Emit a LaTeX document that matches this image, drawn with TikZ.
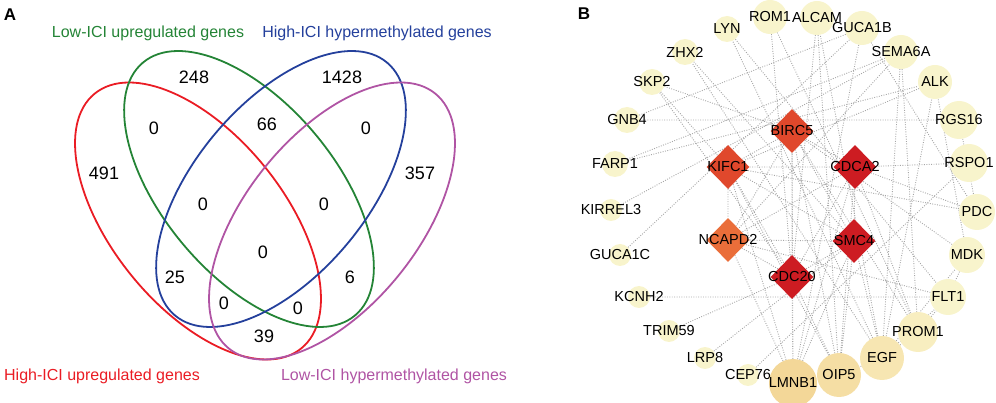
\documentclass[tikz,border=0pt]{standalone}
\usepackage{fontspec}
\setmainfont{Liberation Sans}
\usetikzlibrary{shapes.geometric,backgrounds}

\definecolor{vred}{RGB}{234,28,36}
\definecolor{vgreen}{RGB}{36,132,54}
\definecolor{vblue}{RGB}{36,64,156}
\definecolor{vpurple}{RGB}{176,84,164}
\definecolor{pale}{RGB}{248,244,204}
\definecolor{paleB}{RGB}{248,238,192}
\definecolor{paleC}{RGB}{247,230,178}
\definecolor{paleD}{RGB}{245,222,164}
\definecolor{paleE}{RGB}{243,215,152}
\definecolor{hubA}{RGB}{224,72,44}
\definecolor{hubB}{RGB}{205,28,34}
\definecolor{hubC}{RGB}{234,110,58}

\tikzset{
  venn/.style={line width=1.8pt},
  setlabel/.style={font=\fontsize{16}{18}\selectfont},
  count/.style={font=\fontsize{18}{20}\selectfont},
  panel/.style={font=\bfseries\fontsize{17}{19}\selectfont},
  gene/.style={circle, fill=#1, inner sep=0pt},
  hub/.style={diamond, fill=#1, inner sep=0pt, minimum width=43pt, minimum height=44pt},
  every label/.style={font=\fontsize{14.5}{16}\selectfont, inner sep=0pt},
  link/.style={gray!70, line width=0.9pt, dash pattern=on 0.9pt off 1.5pt}
}

\begin{document}
\begin{tikzpicture}[x=1pt,y=-1pt]
\useasboundingbox (0,0) rectangle (996,403);

% A: venn diagram
\node[panel] (pA) at (10,15) {A};
\draw[venn, vred, rotate around={-51:(198,221)}] (198,221) ellipse [x radius=164pt, y radius=86pt];
\draw[venn, vgreen, rotate around={-50:(249,189)}] (249,189) ellipse [x radius=165pt, y radius=86pt];
\draw[venn, vblue, rotate around={50:(281,189)}] (281,189) ellipse [x radius=165pt, y radius=86pt];
\draw[venn, vpurple, rotate around={51:(332,221)}] (332,221) ellipse [x radius=164pt, y radius=86pt];

\node[setlabel, text=vgreen] (lowup) at (148,33) {Low-ICI upregulated genes};
\node[setlabel, text=vblue] (highhyper) at (377,33) {High-ICI hypermethylated genes};
\node[setlabel, text=vred] (highup) at (102,376) {High-ICI upregulated genes};
\node[setlabel, text=vpurple] (lowhyper) at (394,376) {Low-ICI hypermethylated genes};

\node[count] (c1) at (194,77) {248};
\node[count] (c2) at (342,77) {1428};
\node[count] (c3) at (154,128) {0};
\node[count] (c4) at (267,124) {66};
\node[count] (c5) at (366,128) {0};
\node[count] (c6) at (104,173) {491};
\node[count] (c7) at (420,173) {357};
\node[count] (c8) at (203,204) {0};
\node[count] (c9) at (324,204) {0};
\node[count] (c10) at (263,252) {0};
\node[count] (c11) at (175,277) {25};
\node[count] (c12) at (350,277) {6};
\node[count] (c13) at (224,303) {0};
\node[count] (c14) at (298,308) {0};
\node[count] (c15) at (264,336) {39};

% B: network
\node[panel] (pB) at (584,14) {B};

\node[gene=pale, minimum size=26pt, label=center:LYN] (lyn) at (727,29) {};
\node[gene=pale, minimum size=26pt, label=center:ZHX2] (zhx2) at (685,52) {};
\node[gene=pale, minimum size=26pt, label=center:SKP2] (skp2) at (652,82) {};
\node[gene=pale, minimum size=26pt, label=center:GNB4] (gnb4) at (627,120) {};
\node[gene=pale, minimum size=26pt, label=center:FARP1] (farp1) at (615,164) {};
\node[gene=pale, minimum size=22pt, label=center:KIRREL3] (kirrel3) at (611,210) {};
\node[gene=pale, minimum size=22pt, label=center:GUCA1C] (guca1c) at (620,255) {};
\node[gene=pale, minimum size=22pt, label=center:KCNH2] (kcnh2) at (639,297) {};
\node[gene=pale, minimum size=22pt, label=center:TRIM59] (trim59) at (669,331) {};
\node[gene=pale, minimum size=22pt, label=center:LRP8] (lrp8) at (705,358) {};
\node[gene=pale, minimum size=22pt, label=center:CEP76] (cep76) at (748,375) {};
\node[gene=paleE, minimum size=48pt, label=center:LMNB1] (lmnb1) at (793,383) {};
\node[gene=paleD, minimum size=44pt, label=center:OIP5] (oip5) at (839,375) {};
\node[gene=paleC, minimum size=44pt, label=center:EGF] (egf) at (882,358) {};
\node[gene=paleB, minimum size=40pt, label=center:PROM1] (prom1) at (918,332) {};
\node[gene=pale, minimum size=36pt, label=center:FLT1] (flt1) at (948,297) {};
\node[gene=pale, minimum size=36pt, label=center:MDK] (mdk) at (967,255) {};
\node[gene=pale, minimum size=36pt, label=center:PDC] (pdc) at (977,212) {};
\node[gene=pale, minimum size=38pt, label=center:RSPO1] (rspo1) at (969,163) {};
\node[gene=pale, minimum size=38pt, label=center:RGS16] (rgs16) at (959,120) {};
\node[gene=pale, minimum size=34pt, label=center:ALK] (alk) at (935,82) {};
\node[gene=pale, minimum size=34pt, label=center:SEMA6A] (sema6a) at (901,52) {};
\node[gene=pale, minimum size=34pt, label=center:GUCA1B] (guca1b) at (862,28) {};
\node[gene=pale, minimum size=34pt, label=center:ALCAM] (alcam) at (817,18) {};
\node[gene=pale, minimum size=34pt, label=center:ROM1] (rom1) at (770,17) {};

\node[hub=hubA, label=center:BIRC5] (birc5) at (792,131) {};
\node[hub=hubA, label=center:KIFC1] (kifc1) at (728,167) {};
\node[hub=hubB, label=center:CDCA2] (cdca2) at (855,167) {};
\node[hub=hubC, label=center:NCAPD2] (ncapd2) at (728,240) {};
\node[hub=hubB, label=center:SMC4] (smc4) at (854,241) {};
\node[hub=hubB, label=center:CDC20] (cdc20) at (792,277) {};

\begin{pgfonlayer}{background}
% hubs
\draw[link] (birc5) -- (kifc1) (birc5) -- (cdca2) (birc5) -- (ncapd2) (birc5) -- (smc4) (birc5) -- (cdc20);
\draw[link] (kifc1) -- (cdca2) (kifc1) -- (ncapd2) (kifc1) -- (smc4) (kifc1) -- (cdc20);
\draw[link] (cdca2) -- (ncapd2) (cdca2) -- (smc4) (cdca2) -- (cdc20);
\draw[link] (ncapd2) -- (smc4) (ncapd2) -- (cdc20) (smc4) -- (cdc20);
% hubs to the ring
\draw[link] (lmnb1) -- (kifc1) (lmnb1) -- (birc5) (lmnb1) -- (cdc20) (lmnb1) -- (smc4) (lmnb1) -- (cdca2) (lmnb1) -- (ncapd2);
\draw[link] (oip5) -- (kifc1) (oip5) -- (birc5) (oip5) -- (cdc20) (oip5) -- (smc4) (oip5) -- (cdca2);
\draw[link] (skp2) -- (birc5) (skp2) -- (kifc1) (skp2) -- (cdc20);
\draw[link] (trim59) -- (cdc20) (lrp8) -- (smc4) (alcam) -- (cdc20) (alcam) -- (oip5);
\draw[link] (cdca2) -- (rspo1) (cdca2) -- (pdc) (rom1) -- (cdc20) (guca1b) -- (lmnb1);
\draw[link] (sema6a) -- (ncapd2) (alk) -- (kifc1) (mdk) -- (birc5) (pdc) -- (kifc1);
\draw[link] (zhx2) -- (smc4) (prom1) -- (birc5) (prom1) -- (cdca2) (flt1) -- (ncapd2);
% ring to ring
\draw[link] (egf) -- (lyn) (egf) -- (zhx2) (egf) -- (prom1) (egf) -- (oip5) (egf) -- (flt1);
\draw[link] (egf) -- (mdk) (egf) -- (alk) (egf) -- (alcam) (egf) -- (sema6a) (egf) -- (smc4);
\draw[link] (gnb4) -- (rgs16) (gnb4) -- (guca1b) (farp1) -- (sema6a) (farp1) -- (alk);
\draw[link] (kirrel3) -- (sema6a) (guca1c) -- (guca1b) (kcnh2) -- (flt1) (cep76) -- (rspo1);
\draw[link] (rgs16) -- (pdc) (mdk) -- (alk) (mdk) -- (flt1) (prom1) -- (flt1) (lyn) -- (flt1);
\draw[link] (guca1b) -- (pdc) (sema6a) -- (prom1) (rom1) -- (prom1);
\end{pgfonlayer}
\end{tikzpicture}
\end{document}
